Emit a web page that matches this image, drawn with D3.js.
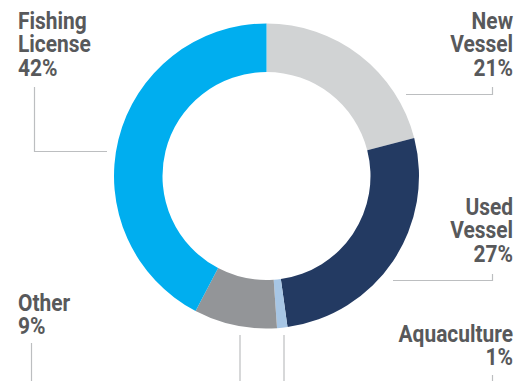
<!DOCTYPE html>
<html lang="en">
<head>
	<meta charset="utf-8">
	<title>Donut</title>
	<script src="https://d3js.org/d3.v7.min.js"></script>
	<style>
		body {
			margin: 0;
			padding: 0;
			background: #fff;
		}

		.lbl {
			font-family: Roboto, "Noto Sans", sans-serif;
			font-weight: 700;
			font-size: 23px;
			fill: #58595b;
		}

		.leader {
			stroke: #bcbec0;
			stroke-width: 1.2;
			fill: none;
		}
	</style>
</head>
<body>
	<div id="chart"></div>
	<script>

		// data
		var categories = ["New Vessel", "Used Vessel", "Aquaculture", "Other", "Fishing License"];
		var values = [21, 26.8, 1.1, 8.8, 42.3];
		var pctLabels = ["21%", "27%", "1%", "9%", "42%"];
		var colors = ["#d1d3d4", "#233a62", "#a7c6e5", "#939598", "#00aeef"];

		// label layout (text lines, anchor, position) and leader polylines
		var labelLayout = [
			{ lines: ["New", "Vessel"], anchor: "end", x: 513, y: 29 },
			{ lines: ["Used", "Vessel"], anchor: "end", x: 513, y: 215 },
			{ lines: ["Aquaculture"], anchor: "end", x: 513, y: 342 },
			{ lines: ["Other"], anchor: "start", x: 18, y: 311 },
			{ lines: ["Fishing", "License"], anchor: "start", x: 18, y: 29 }
		];
		var leaders = [
			[[406, 94.5], [492.5, 94.5], [492.5, 87]],
			[[393, 280.5], [492.5, 280.5], [492.5, 274]],
			[[492.5, 375], [492.5, 381]],
			[[31.5, 343], [31.5, 381]],
			[[34.5, 87], [34.5, 151.5], [107, 151.5]],
			[[240, 335], [240, 381]],
			[[284, 335], [284, 381]]
		];

		var width = 531,
			height = 381;
		var cx = 266.5,
			cy = 176;
		var rOuter = 152.5,
			rInner = 104;
		var lineH = 23.5;

		var svg = d3.select("#chart")
			.append("svg")
			.attr("width", width)
			.attr("height", height);

		var pie = d3.pie()
			.sort(null)
			.value(function (d) { return d; });

		var arc = d3.arc()
			.innerRadius(rInner)
			.outerRadius(rOuter);

		svg.append("g")
			.attr("transform", "translate(" + cx + "," + cy + ")")
			.selectAll("path")
			.data(pie(values))
			.enter().append("path")
			.attr("d", arc)
			.attr("fill", function (d, i) { return colors[i]; });

		// leader lines
		var line = d3.line();
		svg.selectAll("path.leader")
			.data(leaders)
			.enter().append("path")
			.attr("class", "leader")
			.attr("d", line);

		// labels
		var g = svg.selectAll("g.label")
			.data(labelLayout)
			.enter().append("g")
			.attr("class", "label")
			.attr("transform", function (d) { return "translate(" + d.x + "," + d.y + ") scale(0.91,1)"; });

		g.each(function (d, i) {
			var t = d3.select(this).append("text")
				.attr("class", "lbl")
				.attr("text-anchor", d.anchor);
			d.lines.concat([pctLabels[i]]).forEach(function (s, k) {
				t.append("tspan")
					.attr("x", 0)
					.attr("y", k * lineH)
					.text(s);
			});
		});

	</script>
</body>
</html>
